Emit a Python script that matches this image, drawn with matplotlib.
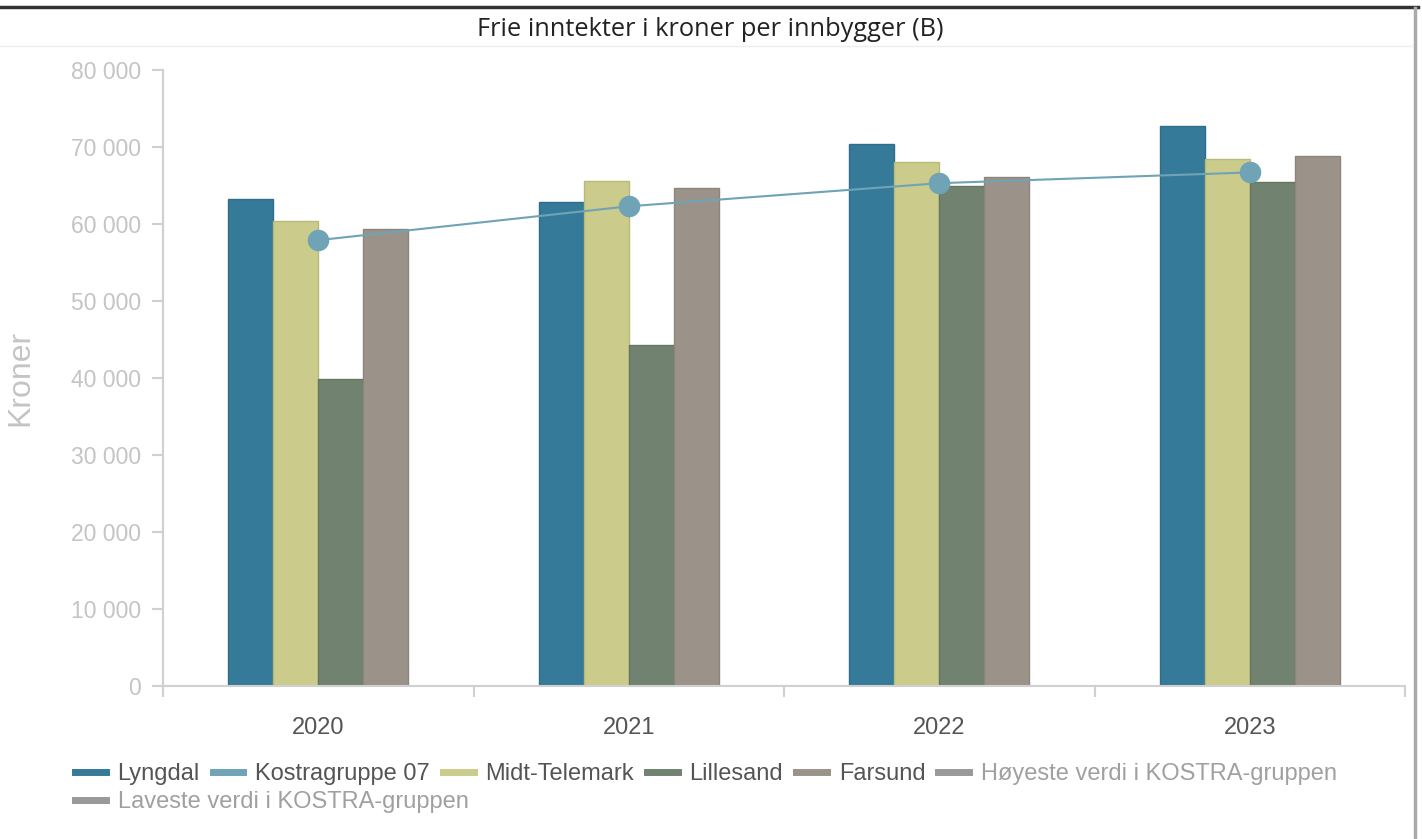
import matplotlib
matplotlib.use("Agg")
import matplotlib.pyplot as plt
from matplotlib.lines import Line2D
import numpy as np

years = ["2020", "2021", "2022", "2023"]
lyngdal = [63300, 62800, 70400, 72700]
kostra07 = [57900, 62300, 65300, 66700]
midt_telemark = [60400, 65600, 68000, 68500]
lillesand = [39900, 44300, 64900, 65400]
farsund = [59400, 64700, 66100, 68800]
yticks = [0, 10000, 20000, 30000, 40000, 50000, 60000, 70000, 80000]
ytick_labels = ["0", "10 000", "20 000", "30 000", "40 000", "50 000", "60 000", "70 000", "80 000"]

c_lyng = "#357a98"
c_kostra = "#6fa3b5"
c_midt = "#cbcb8b"
c_lill = "#718270"
c_fars = "#9b9389"
c_grey = "#999999"

W, H = 1422, 839
fig = plt.figure(figsize=(W / 100, H / 100), dpi=100)
fig.patch.set_facecolor("white")

ax = fig.add_axes([163 / W, 1 - 686 / H, (1405 - 163) / W, (686 - 70) / H])
x = np.arange(len(years))
w = 0.145
bar_sets = [(lyngdal, c_lyng, "#2f6e8a"), (midt_telemark, c_midt, "#b8b878"),
            (lillesand, c_lill, "#66765f"), (farsund, c_fars, "#8c857b")]
for i, (vals, fc, ec) in enumerate(bar_sets):
    ax.bar(x + (i - 1.5) * w, vals, width=w, color=fc, edgecolor=ec, linewidth=1, zorder=2)
ax.plot(x, kostra07, color=c_kostra, linewidth=1.5, marker="o", markersize=14.5, zorder=3)

ax.set_xlim(-0.5, 3.5)
ax.set_ylim(0, 80000)
ax.set_yticks(yticks)
ax.set_yticklabels(ytick_labels, fontsize=16.5, color="#c4c4c4", family="Liberation Sans")
ax.set_xticks(np.arange(-0.5, 4.0, 1.0))
ax.set_xticklabels([])
ax.set_xticks(x, minor=True)
ax.set_xticklabels(years, minor=True, fontsize=17, color="#555555", family="Liberation Sans")
ax.tick_params(axis="x", which="major", length=8, color="#d0d0d0", width=1.5, direction="out")
ax.tick_params(axis="x", which="minor", length=0, pad=22)
ax.tick_params(axis="y", length=8, color="#d0d0d0", width=1.5, pad=8)
for s in ["top", "right"]:
    ax.spines[s].set_visible(False)
for s in ["left", "bottom"]:
    ax.spines[s].set_color("#d0d0d0")
    ax.spines[s].set_linewidth(1.5)
ax.set_ylabel("Kroner", fontsize=23, color="#c4c4c4", family="Liberation Sans")
ax.yaxis.set_label_coords((35 - 163) / (1405 - 163), 0.5)

# Title and frame lines
fig.text(710 / W, 1 - 30 / H, "Frie inntekter i kroner per innbygger (B)", ha="center", va="center",
         fontsize=18.3, color="#222222", family="Open Sans")
fig.add_artist(Line2D([0, 1418 / W], [1 - 7 / H, 1 - 7 / H], color="#333333", linewidth=2.5))
fig.add_artist(Line2D([0, 1412 / W], [1 - 46 / H, 1 - 46 / H], color="#eeeeee", linewidth=1))
fig.add_artist(Line2D([1415 / W, 1415 / W], [0, 1 - 8 / H], color="#aaaaaa", linewidth=2.5))

# Legend
h = lambda c: Line2D([], [], color=c, linewidth=5)
row1 = [(c_lyng, "Lyngdal"), (c_kostra, "Kostragruppe 07"), (c_midt, "Midt-Telemark"),
        (c_lill, "Lillesand"), (c_fars, "Farsund"), (c_grey, "Høyeste verdi i KOSTRA-gruppen")]
prop = {"family": "Liberation Sans", "size": 17}
leg1 = fig.legend([h(c) for c, _ in row1], [t for _, t in row1], loc="center left",
                  bbox_to_anchor=(75 / W, 1 - 774 / H), ncol=6, frameon=False,
                  prop=prop, handlelength=1.3,
                  handletextpad=0.5, columnspacing=0.55, borderpad=0, borderaxespad=0)
for t in leg1.get_texts():
    t.set_color("#555555")
leg1.get_texts()[-1].set_color("#a0a0a0")
leg2 = fig.legend([h(c_grey)], ["Laveste verdi i KOSTRA-gruppen"], loc="center left",
                  bbox_to_anchor=(75 / W, 1 - 802 / H), ncol=1, frameon=False,
                  prop=prop, handlelength=1.3,
                  handletextpad=0.5, borderpad=0, borderaxespad=0)
leg2.get_texts()[0].set_color("#a0a0a0")

fig.savefig("out.png", dpi=100)
